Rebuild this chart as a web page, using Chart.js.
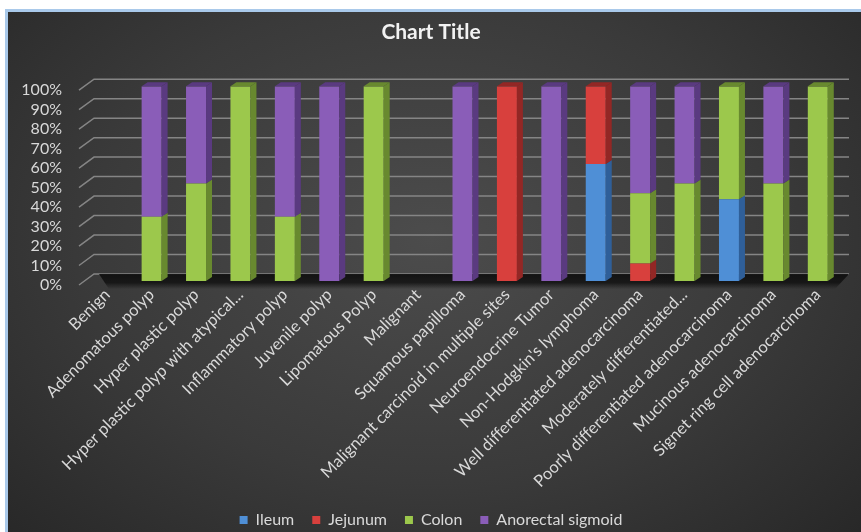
<!DOCTYPE html>
<html>
<head>
<meta charset="utf-8">
<script src="https://cdn.jsdelivr.net/npm/chart.js@4/dist/chart.umd.min.js"></script>
<style>
  html, body { margin: 0; padding: 0; background: #ffffff; overflow: hidden; }
  #box {
    position: absolute; left: 5px; top: 9px;
    width: 862px; height: 540px;
    border: 3px solid #a9c9ea;
    overflow: hidden;
    background: radial-gradient(ellipse at 49% 42%, #4c4c4c 0%, #3a3a3a 55%, #262626 100%);
  }
  canvas { display: block; }
</style>
</head>
<body>
<div id="box"><canvas id="myChart" width="853" height="526"></canvas></div>
<script>
// categories and values (percent of each category)
const categories = [
  'Benign', 'Adenomatous polyp', 'Hyper plastic polyp', 'Hyper plastic polyp with atypical...',
  'Inflammatory polyp', 'Juvenile polyp', 'Lipomatous Polyp', 'Malignant', 'Squamous papilloma',
  'Malignant carcinoid in multiple sites', 'Neuroendocrine Tumor', "Non-Hodgkin's lymphoma",
  'Well differentiated adenocarcinoma', 'Moderately differentiated...',
  'Poorly differentiated adenocarcinoma', 'Mucinous adenocarcinoma', 'Signet ring cell adenocarcinoma'
];
const ileum    = [0, 0, 0, 0, 0, 0, 0, 0, 0, 0, 0, 60, 0, 0, 42, 0, 0];
const jejunum  = [0, 0, 0, 0, 0, 0, 0, 0, 0, 100, 0, 40, 9, 0, 0, 0, 0];
const colon    = [0, 33, 50, 100, 33, 0, 100, 0, 0, 0, 0, 0, 36, 50, 58, 50, 100];
const anorectal= [0, 67, 50, 0, 67, 100, 0, 0, 100, 0, 100, 0, 55, 50, 0, 50, 0];
const yTicks = [0, 10, 20, 30, 40, 50, 60, 70, 80, 90, 100];

const seriesNames = ['Ileum', 'Jejunum', 'Colon', 'Anorectal sigmoid'];
const seriesData = [ileum, jejunum, colon, anorectal];
const seriesColors = ['#4f8fd6', '#d8403d', '#9cc84c', '#8a5db8'];
const sideColors = ['#2f5f99', '#932725', '#68892f', '#5a3a80'];

// back-wall gridlines, floor shadow and fake 3D sides of the bars
const bars3d = {
  id: 'bars3d',
  beforeDatasetsDraw(chart) {
    const { ctx, chartArea } = chart;
    const ys = chart.scales.y;
    ctx.save();
    ctx.strokeStyle = '#858585';
    ctx.lineWidth = 1.5;
    yTicks.forEach(v => {
      const y = ys.getPixelForValue(v);
      ctx.beginPath();
      ctx.moveTo(chartArea.left - 6, y + 4);
      ctx.lineTo(chartArea.left + 9, y - 7);
      ctx.lineTo(chartArea.right + 9, y - 7);
      ctx.stroke();
    });
    const yb = ys.getPixelForValue(0);
    const g = ctx.createLinearGradient(0, yb - 8, 0, yb + 8);
    g.addColorStop(0, 'rgba(15,15,15,0.95)');
    g.addColorStop(0.6, 'rgba(15,15,15,0.8)');
    g.addColorStop(1, 'rgba(15,15,15,0)');
    ctx.fillStyle = g;
    ctx.beginPath();
    ctx.moveTo(chartArea.left + 14, yb - 7);
    ctx.lineTo(chartArea.right + 9, yb - 7);
    ctx.lineTo(chartArea.right - 5, yb + 8);
    ctx.lineTo(chartArea.left + 24, yb + 8);
    ctx.closePath();
    ctx.fill();
    ctx.restore();
  },
  afterDatasetsDraw(chart) {
    const { ctx } = chart;
    const dx = 6, dy = 4;
    ctx.save();
    for (let i = 0; i < categories.length; i++) {
      let topEl = null, topIdx = -1;
      chart.data.datasets.forEach((ds, di) => {
        const el = chart.getDatasetMeta(di).data[i];
        if (!el || !ds.data[i]) return;
        const p = el.getProps(['x', 'y', 'base', 'width'], true);
        const r = p.x + p.width / 2;
        ctx.fillStyle = sideColors[di];
        ctx.beginPath();
        ctx.moveTo(r, p.y);
        ctx.lineTo(r + dx, p.y - dy);
        ctx.lineTo(r + dx, p.base - dy);
        ctx.lineTo(r, p.base);
        ctx.closePath();
        ctx.fill();
        topEl = p; topIdx = di;
      });
      if (topEl) {
        const l = topEl.x - topEl.width / 2, r = topEl.x + topEl.width / 2;
        ctx.fillStyle = sideColors[topIdx];
        ctx.beginPath();
        ctx.moveTo(l, topEl.y);
        ctx.lineTo(l + dx, topEl.y - dy);
        ctx.lineTo(r + dx, topEl.y - dy);
        ctx.lineTo(r, topEl.y);
        ctx.closePath();
        ctx.fill();
      }
    }
    ctx.restore();
  }
};

const ctx = document.getElementById('myChart').getContext('2d');
new Chart(ctx, {
  type: 'bar',
  data: {
    labels: categories,
    datasets: seriesNames.map((name, i) => ({
      label: name,
      data: seriesData[i],
      backgroundColor: seriesColors[i],
      borderWidth: 0,
      barPercentage: 0.5,
      categoryPercentage: 0.9
    }))
  },
  options: {
    responsive: false,
    animation: false,
    layout: { padding: { top: 6, left: 14, right: 21, bottom: 0 } },
    plugins: {
      title: {
        display: true,
        text: 'Chart Title',
        color: '#f2f2f2',
        font: { family: 'Lato', size: 21, weight: 'bold' },
        padding: { top: 2, bottom: 41 }
      },
      legend: {
        position: 'bottom',
        labels: {
          color: '#d9d9d9',
          font: { family: 'Lato', size: 16 },
          boxWidth: 8, boxHeight: 8,
          padding: 18
        }
      },
      tooltip: { enabled: false }
    },
    scales: {
      x: {
        stacked: true,
        grid: { display: false, drawTicks: false },
        border: { display: false },
        afterFit(scale) { scale.paddingLeft = 0; scale.height = 213; },
        ticks: {
          color: '#d9d9d9',
          font: { family: 'Lato', size: 16.5 },
          minRotation: 45, maxRotation: 45,
          autoSkip: false,
          padding: 4
        }
      },
      y: {
        stacked: true,
        min: 0, max: 100,
        afterBuildTicks(axis) { axis.ticks = yTicks.map(v => ({ value: v })); },
        afterFit(scale) { scale.width = 63; },
        grid: { display: false, drawTicks: false },
        border: { display: false },
        ticks: {
          color: '#d9d9d9',
          font: { family: 'Lato', size: 16 },
          autoSkip: false,
          padding: 23,
          labelOffset: 4,
          callback: v => v + '%'
        }
      }
    }
  },
  plugins: [bars3d]
});
</script>
</body>
</html>
